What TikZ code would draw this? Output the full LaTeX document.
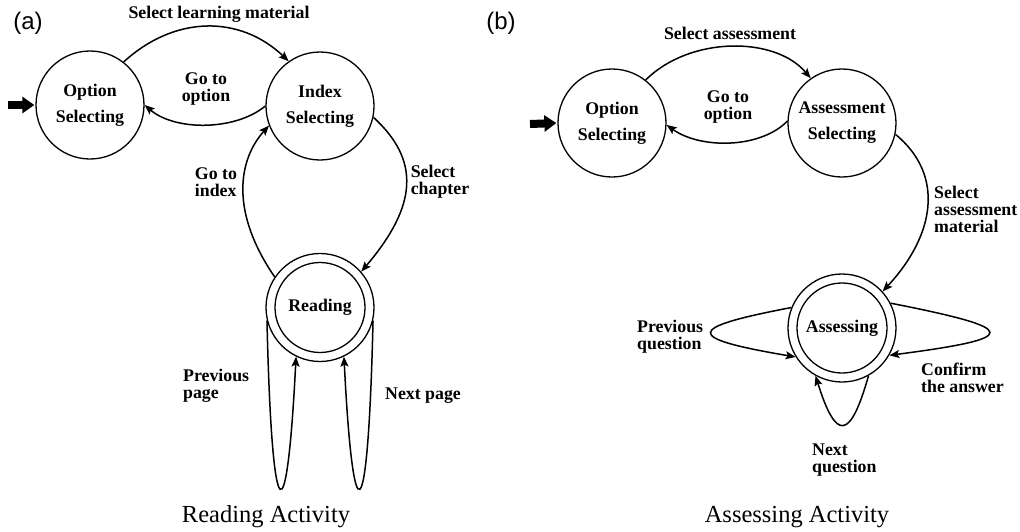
\documentclass[tikz,border=0pt]{standalone}
\usepackage{fontspec}
\setmainfont{Liberation Serif}
\newfontfamily\labfont{Liberation Sans}
\usetikzlibrary{arrows.meta}
\tikzset{
  state/.style={circle,draw,line width=1.3pt,minimum size=108pt,inner sep=0pt,align=center,
    font=\bfseries\fontsize{17.8}{26}\selectfont},
  inner/.style={circle,draw,line width=1.3pt,minimum size=90pt,inner sep=0pt},
  edge/.style={line width=1.5pt,-{Stealth[length=10pt,width=8pt,inset=2pt]}},
  lab/.style={font=\bfseries\fontsize{17.8}{17}\selectfont,inner sep=0pt},
  startarr/.style={line width=8pt,-{Triangle[length=12pt,width=16pt]},shorten >=1pt},
  caption/.style={font=\fontsize{24.5}{28}\selectfont,inner sep=0pt,anchor=base},
  panel/.style={font=\labfont\fontsize{24}{28}\selectfont,inner sep=0pt}
}
\begin{document}
\begin{tikzpicture}[x=1pt,y=-1pt]
\useasboundingbox (0,0) rectangle (1020,531);
% ---------- (a) ----------
\node[panel] (pa) at (28,23) {(a)};
\node[state] (optA) at (90,105) {Option\\Selecting};
\node[state] (idxA) at (320,106) {Index\\Selecting};
\node[state] (readA) at (320,307.5) {Reading};
\node[inner] (readAin) at (320,307.5) {};
\coordinate (inA) at (8,105);
\draw[startarr] (inA) -- (optA.west);
\draw[edge] (optA.52) .. controls (175,15) and (240,15) .. (idxA.125);
\draw[edge] (idxA.180) .. controls (235,131) and (175,131) .. (optA.0);
\draw[edge] (idxA.-12) .. controls (420,160) and (418,205) .. (readA.41);
\draw[edge] (readA.146) .. controls (230,212) and (238,160) .. (idxA.201);
\draw[edge] (readA.194) .. controls (272,538) and (287,538) .. (readA.244);
\draw[edge] (readA.-14) .. controls (368,538) and (353,538) .. (readA.-64);
\node[lab] (lSLM) at (219,14) {Select learning material};
\node[lab,align=center] (lGOa) at (206,89) {Go to\\option};
\node[lab,align=left] (lGI) at (216,182) {Go to\\index};
\node[lab,align=left] (lSC) at (440,182) {Select\\chapter};
\node[lab,align=left,anchor=west] (lPP) at (183,386) {Previous\\page};
\node[lab,anchor=west] (lNP) at (385,396) {Next page};
\node[caption] (capA) at (266,522) {Reading Activity};
% ---------- (b) ----------
\node[panel] (pb) at (501,23) {(b)};
\node[state] (optB) at (612,123) {Option\\Selecting};
\node[state] (assB) at (842,123) {Assessment\\Selecting};
\node[state] (asgB) at (842,328) {Assessing};
\node[inner] (asgBin) at (842,328) {};
\coordinate (inB) at (530,124);
\draw[startarr] (inB) -- (optB.west);
\draw[edge] (optB.52) .. controls (690,36) and (775,36) .. (assB.125);
\draw[edge] (assB.178) .. controls (760,149) and (700,149) .. (optB.-2);
\draw[edge] (assB.-12) .. controls (945,175) and (935,235) .. (asgB.42);
\draw[edge] (asgB.158) .. controls (684,328) and (684,338) .. (asgB.212);
\draw[edge] (asgB.27) .. controls (1022,329) and (1022,338) .. (asgB.-30);
\draw[edge] (asgB.-61) .. controls (850,441) and (836,441) .. (asgB.-119);
\node[lab] (lSA) at (730,33) {Select assessment};
\node[lab,align=center] (lGOb) at (728,107) {Go to\\option};
\node[lab,align=left,anchor=west] (lSAM) at (934,209) {Select\\assessment\\material};
\node[lab,align=left,anchor=west] (lPQ) at (637,337) {Previous\\question};
\node[lab,align=left,anchor=west] (lCA) at (921,378) {Confirm\\the answer};
\node[lab,align=left,anchor=west] (lNQ) at (812,460) {Next\\question};
\node[caption] (capB) at (797,522) {Assessing Activity};
\end{tikzpicture}
\end{document}
